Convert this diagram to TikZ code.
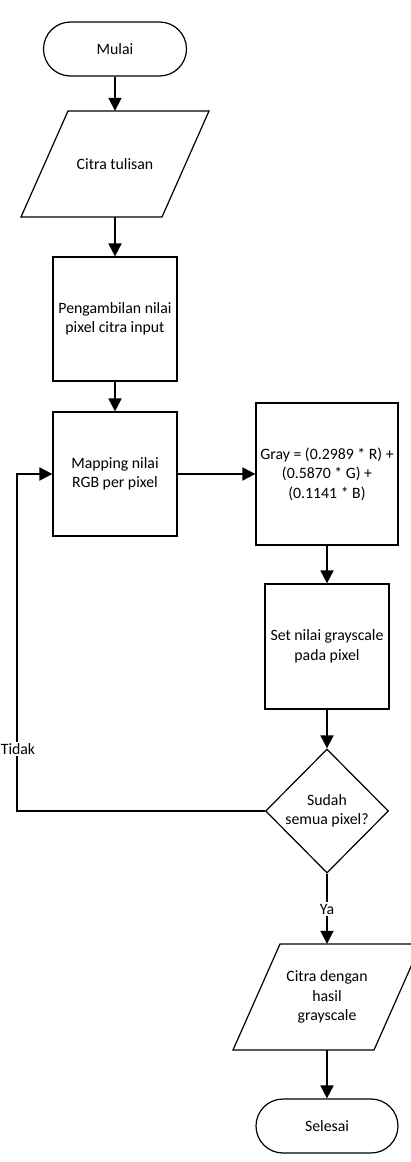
\documentclass[tikz,border=0pt]{standalone}
\usepackage{fontspec}
\setmainfont{Carlito}
\usetikzlibrary{arrows.meta,shapes.geometric}
\begin{document}
\begin{tikzpicture}[x=1pt,y=-1pt,
  font=\fontsize{15.8}{19.5}\selectfont,
  every node/.style={inner sep=0pt},
  term/.style={draw, line width=1.2pt, rounded corners=27pt, minimum width=143pt, minimum height=54pt},
  procbox/.style={draw, line width=1.2pt, minimum width=124pt, minimum height=124pt, align=center},
  iobox/.style={minimum width=94pt, minimum height=106pt, align=center},
  shapeline/.style={line width=1.2pt},
  decision/.style={draw, diamond, line width=1.2pt, minimum width=123pt, minimum height=124pt, align=center},
  conn/.style={line width=1.8pt, -{Triangle[length=13pt,width=13pt]}},
  lbl/.style={fill=white, inner sep=1.5pt}
]
\useasboundingbox (0,0) rectangle (410,1162);
\fill[white] (0,0) rectangle (410,1162);

\node[term] (start) at (115,49) {Mulai};

\draw[shapeline] (68,111) -- (209,111) -- (162,217) -- (21,217) -- cycle;
\node[iobox] (in1) at (115,164) {Citra tulisan};

\node[procbox] (p1) at (115,319) {Pengambilan nilai\\pixel citra input};
\node[procbox] (map) at (115,474) {Mapping nilai\\RGB per pixel};
\node[procbox, minimum width=142pt, minimum height=142pt] (gray) at (327,474) {Gray = (0.2989 * R) +\\(0.5870 * G) +\\(0.1141 * B)};
\node[procbox, minimum height=125pt] (set) at (327,646.5) {Set nilai grayscale\\pada pixel};
\node[decision] (dec) at (327,811) {Sudah\\semua pixel?};

\draw[shapeline] (280,944) -- (421,944) -- (374,1050) -- (233,1050) -- cycle;
\node[iobox] (out) at (327,997) {Citra dengan\\hasil\\grayscale};

\node[term, minimum width=142pt] (stop) at (327,1126) {Selesai};

\coordinate (fbb) at (17,811);
\coordinate (fbt) at (17,474);

\draw[conn] (start.south) -- (in1.north);
\draw[conn] (in1.south) -- (p1.north);
\draw[conn] (p1.south) -- (map.north);
\draw[conn] (map.east) -- (gray.west);
\draw[conn] (gray.south) -- (set.north);
\draw[conn] (set.south) -- (dec.north);
\draw[conn] (dec.west) -- (fbb) -- (fbt) -- (map.west);
\node[lbl] (tidak) at (18,749) {Tidak};
\draw[conn] (dec.south) -- (out.north);
\node[lbl] (ya) at (327,909) {Ya};
\draw[conn] (out.south) -- (stop.north);
\end{tikzpicture}
\end{document}
